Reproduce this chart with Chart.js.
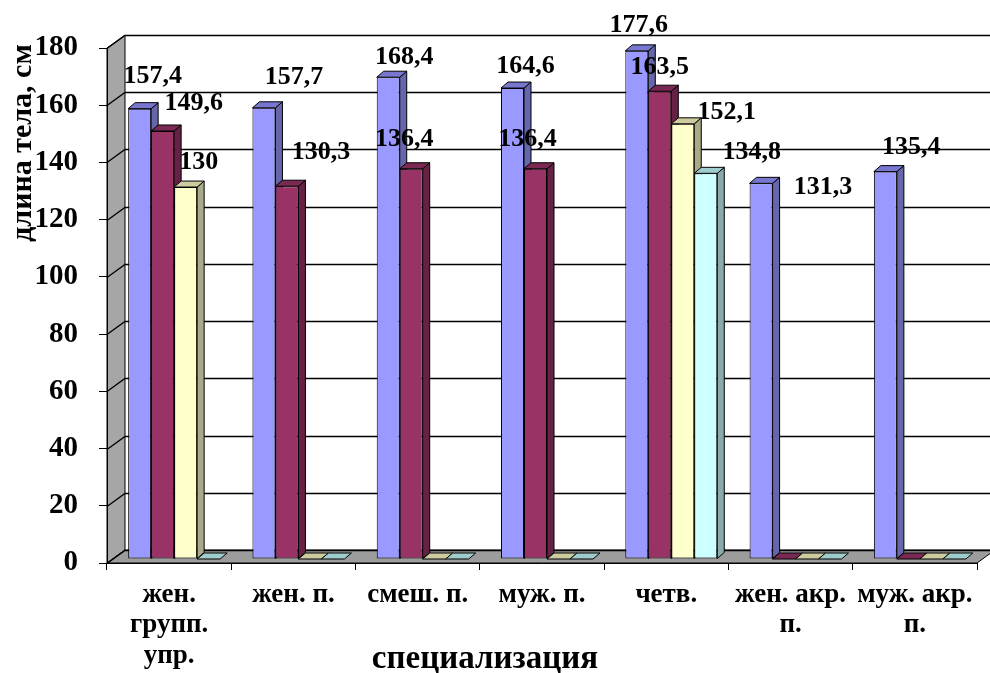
<!DOCTYPE html>
<html>
<head>
<meta charset="utf-8">
<script src="https://cdn.jsdelivr.net/npm/chart.js@4/dist/chart.umd.min.js"></script>
<style>
  html, body { margin: 0; padding: 0; background: #ffffff; }
  canvas { display: block; }
</style>
</head>
<body>
<canvas id="chart" width="990" height="673"></canvas>
<script>
// Categories (specialisation) and body-length values, cm
const categories = [
  ['жен.', 'групп.', 'упр.'],
  ['жен. п.'],
  ['смеш. п.'],
  ['муж. п.'],
  ['четв.'],
  ['жен. акр.', 'п.'],
  ['муж. акр.', 'п.']
];
const series1 = [157.4, 157.7, 168.4, 164.6, 177.6, 131.3, 135.4];
const series2 = [149.6, 130.3, 136.4, 136.4, 163.5, 0, 0];
const series3 = [130, 0, 0, 0, 152.1, 0, 0];
const series4 = [0, 0, 0, 0, 134.8, 0, 0];
const yTicks = [0, 20, 40, 60, 80, 100, 120, 140, 160, 180];

// Styling
const FONT = "'Liberation Serif', 'Times New Roman', serif";
const frontColors = ['#9999FF', '#993366', '#FFFFCC', '#CCFFFF'];
const topColors   = ['#7777D0', '#7A2952', '#CCCC9F', '#9FCCCC'];
const sideColors  = ['#6666AA', '#662244', '#AAAA88', '#88AAAA'];
const WALL = { dx: 18, dy: -13 };      // depth of the 3D box
const BAR = { dx: 7, dy: -6 };         // depth of each column
const SHIFT = { dx: 5, dy: -4 };       // columns sit a little behind the front plane

// Where each value label sits, relative to the top-centre of its column
const labelNudge = [
  [[13, -32], [30, -31], [16, -20], [13, -22], [2, -26], [62, 4], [26, -24]],
  [[31, -28], [34, -34], [-7, -29], [-8, -29], [0, -24], null, null],
  [[13, -25], null, null, null, [44, -12], null, null],
  [null, null, null, null, [46, -21], null, null]
];

const fmt = v => String(v).replace('.', ',');

function poly(ctx, pts) {
  ctx.beginPath();
  ctx.moveTo(pts[0][0], pts[0][1]);
  for (let i = 1; i < pts.length; i++) ctx.lineTo(pts[i][0], pts[i][1]);
  ctx.closePath();
}

const box3d = {
  id: 'box3d',
  beforeDraw(chart) {
    const { ctx, chartArea: { left, right, top, bottom }, scales: { y } } = chart;
    ctx.save();
    ctx.lineWidth = 1;
    ctx.strokeStyle = '#000';
    // left wall
    poly(ctx, [[left, top], [left + WALL.dx, top + WALL.dy], [left + WALL.dx, bottom + WALL.dy], [left, bottom]]);
    ctx.fillStyle = '#A6A6A6';
    ctx.fill();
    ctx.stroke();
    // floor
    poly(ctx, [[left, bottom], [right, bottom], [right + WALL.dx, bottom + WALL.dy], [left + WALL.dx, bottom + WALL.dy]]);
    ctx.fillStyle = '#9C9C9C';
    ctx.fill();
    ctx.stroke();
    // gridlines across the side wall and the back wall
    ctx.lineWidth = 1.3;
    yTicks.forEach(v => {
      const yy = Math.round(y.getPixelForValue(v)) + 0.5;
      ctx.beginPath();
      ctx.moveTo(left, yy);
      ctx.lineTo(left + WALL.dx, yy + WALL.dy);
      ctx.lineTo(chart.width, yy + WALL.dy);
      ctx.stroke();
    });
    ctx.restore();
  },
  beforeDatasetDraw() {
    return false; // columns are drawn below, left to right, with their 3D faces
  },
  afterDatasetsDraw(chart) {
    const { ctx } = chart;
    const metas = chart.getSortedVisibleDatasetMetas().slice().sort((a, b) => a.index - b.index);
    ctx.save();
    ctx.translate(SHIFT.dx, SHIFT.dy);
    ctx.lineWidth = 1;
    ctx.strokeStyle = '#000';
    for (let i = 0; i < categories.length; i++) {
      metas.forEach(meta => {
        const el = meta.data[i];
        const s = meta.index;
        const { x, y, base, width } = el.getProps(['x', 'y', 'base', 'width'], true);
        const x0 = x - width / 2, x1 = x + width / 2;
        if (base - y > 0.5) el.draw(ctx);
        // right side face
        if (base - y > 0.5) {
          poly(ctx, [[x1, y], [x1 + BAR.dx, y + BAR.dy], [x1 + BAR.dx, base + BAR.dy], [x1, base]]);
          ctx.fillStyle = sideColors[s];
          ctx.fill();
          ctx.stroke();
        }
        // top face
        poly(ctx, [[x0, y], [x1, y], [x1 + BAR.dx, y + BAR.dy], [x0 + BAR.dx, y + BAR.dy]]);
        ctx.fillStyle = topColors[s];
        ctx.fill();
        ctx.stroke();
      });
    }
    ctx.restore();
  },
  afterDraw(chart) {
    const { ctx } = chart;
    ctx.save();
    ctx.fillStyle = '#000';
    // value labels
    ctx.font = 'bold 26px ' + FONT;
    ctx.textAlign = 'center';
    ctx.textBaseline = 'middle';
    chart.data.datasets.forEach((ds, s) => {
      const meta = chart.getDatasetMeta(s);
      ds.data.forEach((v, i) => {
        if (!v) return;
        const el = meta.data[i];
        const n = labelNudge[s][i] || [0, -20];
        ctx.fillText(fmt(v), el.x + SHIFT.dx + n[0], el.y + SHIFT.dy + n[1]);
      });
    });
    // axis titles
    ctx.font = 'bold 33px ' + FONT;
    ctx.textBaseline = 'alphabetic';
    ctx.fillText('специализация', 485, 668);
    ctx.translate(31, 143);
    ctx.rotate(-Math.PI / 2);
    ctx.font = 'bold 30px ' + FONT;
    ctx.fillText('длина тела, см', 0, 0);
    ctx.restore();
  }
};

const mk = (data, s) => ({
  data,
  backgroundColor: frontColors[s],
  borderColor: '#000',
  borderWidth: 1,
  borderSkipped: false,
  categoryPercentage: 0.74,
  barPercentage: 1.0,
  clip: false
});

new Chart(document.getElementById('chart'), {
  type: 'bar',
  data: {
    labels: categories,
    datasets: [mk(series1, 0), mk(series2, 1), mk(series3, 2), mk(series4, 3)]
  },
  options: {
    responsive: false,
    animation: false,
    devicePixelRatio: 1,
    layout: { padding: { top: 48, right: 13, left: 0, bottom: 0 } },
    plugins: { legend: { display: false }, tooltip: { enabled: false } },
    scales: {
      x: {
        afterFit(scale) { scale.height = 110; },
        grid: { display: true, drawOnChartArea: false, drawTicks: true, tickLength: 7, color: '#000', offset: true },
        border: { display: true, color: '#000' },
        ticks: {
          color: '#000',
          font: { family: FONT, size: 27, weight: 'bold', lineHeight: 1.12 },
          padding: 10,
          maxRotation: 0,
          autoSkip: false
        }
      },
      y: {
        min: 0,
        max: 180,
        afterFit(scale) { scale.width = 107; },
        afterBuildTicks(scale) { scale.ticks = yTicks.map(v => ({ value: v })); },
        grid: { display: true, drawOnChartArea: false, drawTicks: true, tickLength: 8, color: '#000' },
        border: { display: true, color: '#000' },
        ticks: {
          color: '#000',
          font: { family: FONT, size: 29, weight: 'bold' },
          padding: 21
        }
      }
    }
  },
  plugins: [box3d]
});
</script>
</body>
</html>
